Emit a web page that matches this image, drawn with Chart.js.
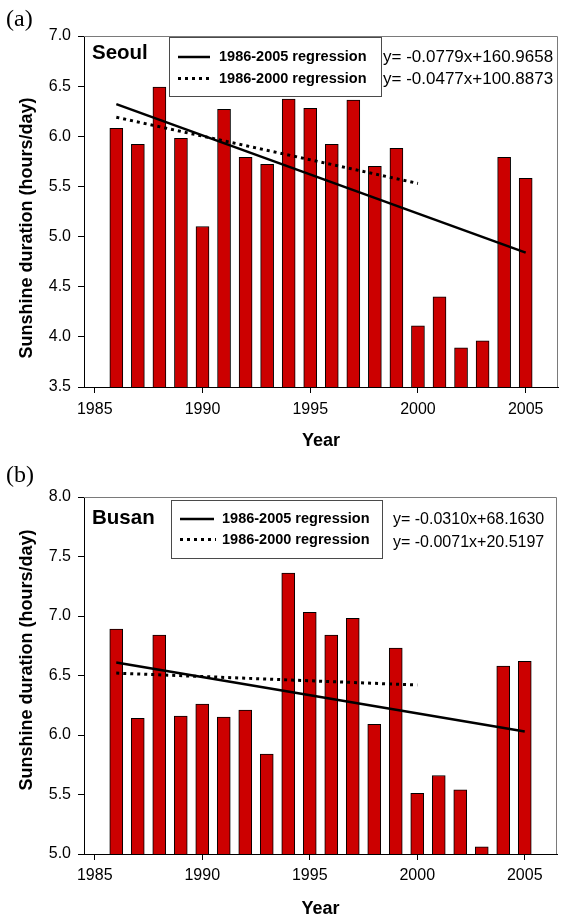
<!DOCTYPE html>
<html>
<head>
<meta charset="utf-8">
<script src="https://cdn.jsdelivr.net/npm/chart.js@4.4.1/dist/chart.umd.min.js"></script>
<style>
  html, body { margin: 0; padding: 0; background: #fff; }
  .panel { position: absolute; left: 0; width: 563px; height: 460px; }
</style>
</head>
<body>
<div class="panel" style="top:0"><canvas id="seoulChart" width="563" height="460"></canvas></div>
<div class="panel" style="top:460px"><canvas id="busanChart" width="563" height="460"></canvas></div>
<script>
// Yearly mean sunshine duration (hours/day)
const years = [1986, 1987, 1988, 1989, 1990, 1991, 1992, 1993, 1994, 1995,
               1996, 1997, 1998, 1999, 2000, 2001, 2002, 2003, 2004, 2005];
const seoulSunshine = [6.08, 5.92, 6.49, 5.98, 5.10, 6.27, 5.79, 5.72, 6.37, 6.28,
                       5.92, 6.36, 5.70, 5.88, 4.11, 4.40, 3.89, 3.96, 5.79, 5.58];
const busanSunshine = [6.89, 6.14, 6.84, 6.16, 6.26, 6.15, 6.21, 5.84, 7.36, 7.03,
                       6.84, 6.98, 6.09, 6.73, 5.51, 5.66, 5.54, 5.06, 6.58, 6.62];

// Regression line end points
const trendAllYears = [1986, 2005];
const trendEarlyYears = [1986, 2000];
const seoulTrendAll = [6.32, 4.84];
const seoulTrendEarly = [6.19, 5.53];
const busanTrendAll = [6.61, 6.03];
const busanTrendEarly = [6.52, 6.42];

// Axis ticks
const xTicks = [1985, 1990, 1995, 2000, 2005];
const seoulYTicks = [3.5, 4.0, 4.5, 5.0, 5.5, 6.0, 6.5, 7.0];
const busanYTicks = [5.0, 5.5, 6.0, 6.5, 7.0, 7.5, 8.0];

const legendLabels = ['1986-2005 regression', '1986-2000 regression'];
const seoulEquations = ['y= -0.0779x+160.9658', 'y= -0.0477x+100.8873'];
const busanEquations = ['y= -0.0310x+68.1630', 'y= -0.0071x+20.5197'];

const SANS = '"Liberation Sans", Arial, Helvetica, sans-serif';
const SERIF = '"Liberation Serif", "Times New Roman", serif';

function pairs(xs, ys) {
    return xs.map((x, i) => ({ x: x, y: ys[i] }));
}

// Frame, titles, legend box and equations drawn on top of the chart
const panelDecor = {
    id: 'panelDecor',
    afterDraw(chart, args, o) {
        const ctx = chart.ctx;
        const a = chart.chartArea;
        ctx.save();

        // top and right frame
        ctx.strokeStyle = '#7a7a7a';
        ctx.lineWidth = 1;
        ctx.beginPath();
        ctx.moveTo(a.left, a.top + 0.5);
        ctx.lineTo(a.right - 0.5, a.top + 0.5);
        ctx.lineTo(a.right - 0.5, a.bottom);
        ctx.stroke();

        ctx.fillStyle = '#000';
        ctx.textBaseline = 'middle';

        // panel tag
        ctx.font = '24px ' + SERIF;
        ctx.textAlign = 'left';
        ctx.fillText(o.tag, 6, o.tagY);

        // station name
        ctx.font = 'bold 20.5px ' + SANS;
        ctx.fillText(o.station, 92, o.stationY);

        // legend box
        const b = o.legendBox;
        ctx.fillStyle = '#fff';
        ctx.fillRect(b.x, b.y, b.w, b.h);
        ctx.strokeStyle = '#4a4a4a';
        ctx.lineWidth = 1;
        ctx.strokeRect(b.x + 0.5, b.y + 0.5, b.w, b.h);

        ctx.strokeStyle = '#000';
        ctx.lineWidth = 2.5;
        ctx.beginPath();
        ctx.moveTo(o.sampleX[0], o.legendY[0]);
        ctx.lineTo(o.sampleX[1], o.legendY[0]);
        ctx.stroke();
        ctx.lineWidth = 3;
        ctx.setLineDash([3, 4]);
        ctx.beginPath();
        ctx.moveTo(o.sampleX[0], o.legendY[1]);
        ctx.lineTo(o.sampleX[1] + 2, o.legendY[1]);
        ctx.stroke();
        ctx.setLineDash([]);

        ctx.fillStyle = '#000';
        ctx.font = 'bold 14.5px ' + SANS;
        legendLabels.forEach((t, i) => ctx.fillText(t, o.textX, o.legendY[i]));

        // regression equations
        ctx.font = o.eqFont + 'px ' + SANS;
        o.equations.forEach((t, i) => ctx.fillText(t, o.eqX, o.eqY[i]));

        // axis titles
        ctx.font = 'bold 18px ' + SANS;
        ctx.textAlign = 'center';
        ctx.fillText('Year', (a.left + a.right) / 2, o.xTitleY);
        ctx.translate(27.5, o.yTitleY);
        ctx.rotate(-Math.PI / 2);
        ctx.fillText('Sunshine duration (hours/day)', 0, 0);

        ctx.restore();
    }
};

function buildChart(canvasId, p) {
    return new Chart(document.getElementById(canvasId), {
        type: 'bar',
        data: {
            datasets: [
                {
                    type: 'line',
                    data: pairs(trendAllYears, p.trendAll),
                    borderColor: '#000',
                    borderWidth: 2.5,
                    pointRadius: 0,
                    order: 0
                },
                {
                    type: 'line',
                    data: pairs(trendEarlyYears, p.trendEarly),
                    borderColor: '#000',
                    borderWidth: 3,
                    borderDash: [3, 4],
                    pointRadius: 0,
                    order: 0
                },
                {
                    data: pairs(years, p.values),
                    backgroundColor: '#cc0000',
                    borderColor: '#000',
                    borderWidth: 1,
                    barThickness: 13,
                    order: 1
                }
            ]
        },
        options: {
            responsive: false,
            animation: false,
            devicePixelRatio: 1,
            layout: { padding: { top: p.top, right: p.right, left: 0, bottom: 0 } },
            scales: {
                x: {
                    type: 'linear',
                    min: 1984.5,
                    max: 2006.5,
                    offset: false,
                    afterFit: s => { s.height = p.xAxisHeight; },
                    afterBuildTicks: s => { s.ticks = xTicks.map(v => ({ value: v })); },
                    border: { color: '#000', width: 1 },
                    grid: { display: true, offset: false, drawOnChartArea: false, drawTicks: true, tickLength: 6, color: '#000' },
                    ticks: {
                        padding: p.xPad,
                        color: '#000',
                        font: { family: SANS, size: 16 },
                        maxRotation: 0,
                        callback: v => String(v)
                    }
                },
                y: {
                    min: p.yTicks[0],
                    max: p.yTicks[p.yTicks.length - 1],
                    afterFit: s => { s.width = 84; },
                    afterBuildTicks: s => { s.ticks = p.yTicks.map(v => ({ value: v })); },
                    border: { color: '#000', width: 1 },
                    grid: { display: true, drawOnChartArea: false, drawTicks: true, tickLength: 6, color: '#000' },
                    ticks: {
                        padding: 7,
                        color: '#000',
                        font: { family: SANS, size: 16 },
                        callback: v => Number(v).toFixed(1)
                    }
                }
            },
            plugins: {
                legend: { display: false },
                tooltip: { enabled: false },
                panelDecor: p.decor
            }
        },
        plugins: [panelDecor]
    });
}

document.addEventListener('DOMContentLoaded', function() {
    buildChart('seoulChart', {
        values: seoulSunshine,
        trendAll: seoulTrendAll,
        trendEarly: seoulTrendEarly,
        yTicks: seoulYTicks,
        top: 36,
        right: 5,
        xAxisHeight: 73,
        xPad: 7,
        decor: {
            tag: '(a)', tagY: 20,
            station: 'Seoul', stationY: 53,
            legendBox: { x: 169, y: 37, w: 212, h: 59 },
            sampleX: [178, 210], legendY: [57, 78.5], textX: 219,
            equations: seoulEquations, eqFont: 17, eqX: 383, eqY: [57.5, 79],
            xTitleY: 441, yTitleY: 228
        }
    });

    buildChart('busanChart', {
        values: busanSunshine,
        trendAll: busanTrendAll,
        trendEarly: busanTrendEarly,
        yTicks: busanYTicks,
        top: 37,
        right: 6,
        xAxisHeight: 66,
        xPad: 6,
        decor: {
            tag: '(b)', tagY: 16,
            station: 'Busan', stationY: 58,
            legendBox: { x: 171, y: 40, w: 211, h: 58 },
            sampleX: [180, 214], legendY: [59, 79.5], textX: 222,
            equations: busanEquations, eqFont: 16, eqX: 393, eqY: [60, 82.5],
            xTitleY: 449, yTitleY: 200
        }
    });
});
</script>
</body>
</html>
